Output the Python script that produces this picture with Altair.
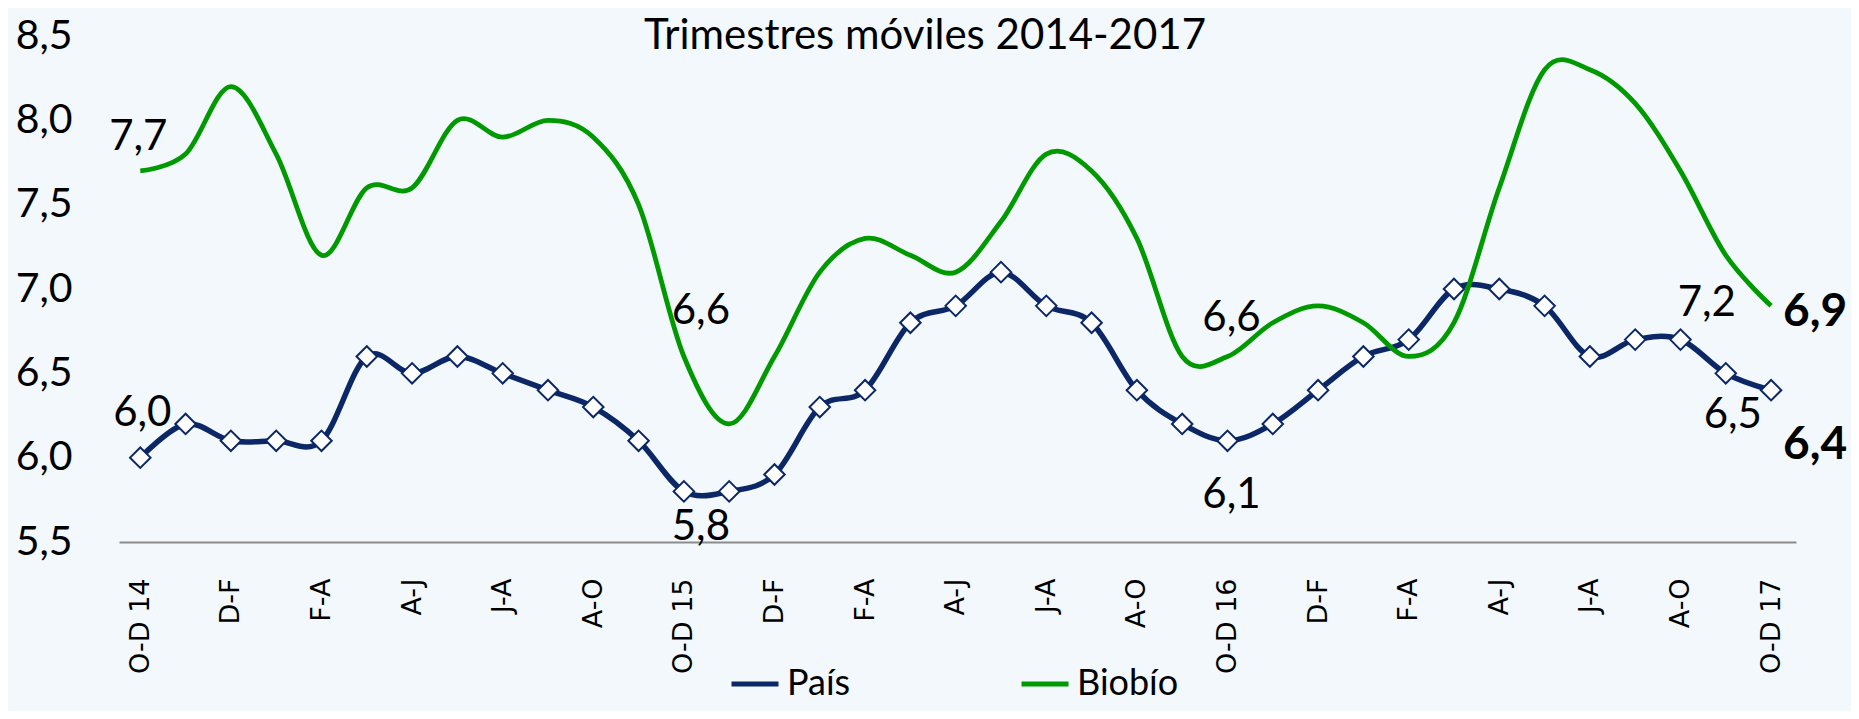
import json
import altair as alt
import pandas as pd

# ---- data ----
periods = ["O-D 14", "N-E", "D-F", "E-M", "F-A", "M-M", "A-J", "M-J", "J-A", "J-S", "A-O", "S-N",
           "O-D 15", "N-E", "D-F", "E-M", "F-A", "M-M", "A-J", "M-J", "J-A", "J-S", "A-O", "S-N",
           "O-D 16", "N-E", "D-F", "E-M", "F-A", "M-M", "A-J", "M-J", "J-A", "J-S", "A-O", "S-N",
           "O-D 17"]
pais = [6.0, 6.2, 6.1, 6.1, 6.1, 6.6, 6.5, 6.6, 6.5, 6.4, 6.3, 6.1,
        5.8, 5.8, 5.9, 6.3, 6.4, 6.8, 6.9, 7.1, 6.9, 6.8, 6.4, 6.2,
        6.1, 6.2, 6.4, 6.6, 6.7, 7.0, 7.0, 6.9, 6.6, 6.7, 6.7, 6.5,
        6.4]
biobio = [7.7, 7.8, 8.2, 7.8, 7.2, 7.6, 7.6, 8.0, 7.9, 8.0, 7.9, 7.5,
          6.6, 6.2, 6.6, 7.1, 7.3, 7.2, 7.1, 7.4, 7.8, 7.7, 7.3, 6.6,
          6.6, 6.8, 6.9, 6.8, 6.6, 6.8, 7.6, 8.3, 8.3, 8.1, 7.7, 7.2,
          6.9]
series_names = ["País", "Biobío"]
title_text = "Trimestres móviles 2014-2017"
y_ticks = [5.5, 6.0, 6.5, 7.0, 7.5, 8.0, 8.5]

rows = []
for i in range(len(periods)):
    rows.append({"idx": i, "series": series_names[0], "value": pais[i]})
    rows.append({"idx": i, "series": series_names[1], "value": biobio[i]})
df = pd.DataFrame(rows)

NAVY = "#0c2766"
GREEN = "#009a00"
FONT = "Lato"

label_expr = json.dumps(periods, ensure_ascii=False) + "[round(datum.value)]"
comma_expr = "replace(format(datum.value, '.1f'), '.', ',')"

x_enc = alt.X(
    "idx:Q",
    scale=alt.Scale(domain=[-0.47, 36.55], nice=False, zero=False),
    axis=alt.Axis(
        values=list(range(0, len(periods), 2)), labelExpr=label_expr,
        labelAngle=270, labelAlign="right", labelBaseline="middle",
        labelPadding=36, tickSize=0, ticks=False, grid=False,
        domainColor="#8c8c8c", domainWidth=2, labelFont="DejaVu Sans",
        labelFontSize=27, labelColor="black", title=None,
        labelOverlap=False, labelFlush=False,
    ),
)
y_enc = alt.Y(
    "value:Q",
    scale=alt.Scale(domain=[5.5, 8.5], nice=False, zero=False),
    axis=alt.Axis(
        values=y_ticks, labelExpr=comma_expr, domain=False, ticks=False,
        grid=False, labelPadding=47, labelFont=FONT, labelFontSize=41,
        labelColor="black", labelAlign="right", labelBaseline="middle",
        title=None, labelFlush=False,
    ),
)

base = alt.Chart(df).encode(x=x_enc, y=y_enc)

color_enc = alt.Color(
    "series:N",
    scale=alt.Scale(domain=series_names, range=[NAVY, GREEN]),
    legend=alt.Legend(
        orient="none", legendX=610, legendY=622, direction="horizontal",
        title=None, symbolType="stroke", symbolSize=2209, symbolStrokeWidth=5,
        labelFont=FONT, labelFontSize=36, labelColor="black",
        columnPadding=160, labelOffset=6,
    ),
)

pais_line = base.transform_filter(alt.datum.series == series_names[0]).mark_line(
    interpolate="cardinal", tension=0, strokeWidth=5.5
).encode(color=color_enc)

pais_pts = base.transform_filter(alt.datum.series == series_names[0]).mark_point(
    shape="diamond", filled=True, fill="white", stroke=NAVY, strokeWidth=2,
    size=420, opacity=1
)

bio_line = base.transform_filter(alt.datum.series == series_names[1]).mark_line(
    interpolate="cardinal", tension=0, strokeWidth=4.8
).encode(color=color_enc)

# label styles: (series, idx, dx, dy, align, bold)
label_styles = [
    (series_names[1], 0, -2, -21, "center", False),
    (series_names[1], 12, 17, -32, "center", False),
    (series_names[1], 24, 4, -25, "center", False),
    (series_names[1], 35, -19, 61, "center", False),
    (series_names[1], 36, 12, 20, "left", True),
    (series_names[0], 0, 2, -32, "center", False),
    (series_names[0], 12, 17, 49, "center", False),
    (series_names[0], 24, 4, 67, "center", False),
    (series_names[0], 35, 7, 55, "center", False),
    (series_names[0], 36, 12, 69, "left", True),
]

label_layers = []
for s, i, dx, dy, align, bold in label_styles:
    label_layers.append(
        base.transform_filter((alt.datum.series == s) & (alt.datum.idx == i))
        .transform_calculate(lab=comma_expr)
        .mark_text(
            dx=dx, dy=dy, align=align, baseline="alphabetic", font=FONT,
            fontSize=46 if bold else 42, fontWeight="bold" if bold else "normal",
            color="black",
        )
        .encode(text="lab:N")
    )

title_layer = alt.Chart(pd.DataFrame({"t": [title_text]})).mark_text(
    font=FONT, fontSize=42, align="center", baseline="alphabetic", color="black"
).encode(text="t:N", x=alt.value(806), y=alt.value(13))

chart = alt.layer(
    pais_line, pais_pts, bio_line, *label_layers, title_layer
).properties(
    width=1677, height=506,
    padding={"left": 111, "top": 28, "right": 55, "bottom": 169},
    autosize=alt.AutoSizeParams(type="none"),
    background="#f2f8fc",
).configure_view(stroke=None)

chart.save("out.html", embed_options={"renderer": "svg", "actions": False})
